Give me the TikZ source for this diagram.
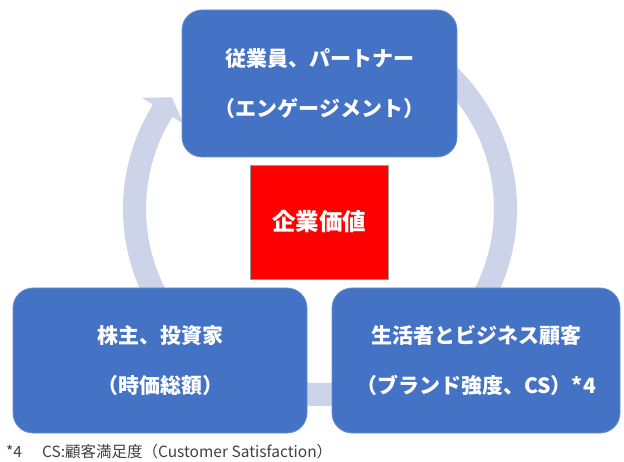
\documentclass[tikz,border=0pt]{standalone}
\usepackage{fontspec}
\setmainfont{Noto Sans CJK JP}
\newfontfamily\jp{Noto Sans CJK JP}
\definecolor{boxblue}{HTML}{4472C4}
\definecolor{boxedge}{HTML}{6A8FD2}
\definecolor{ringcol}{HTML}{CDD3E8}
\definecolor{valred}{HTML}{FF0000}
\definecolor{notegray}{HTML}{404040}
\begin{document}
\begin{tikzpicture}[x=1pt,y=1pt,
  stakebox/.style={rectangle, rounded corners=20pt, fill=boxblue, draw=boxedge, line width=0.8pt,
    text=white, align=center, inner sep=0pt,
    font=\jp\bfseries\fontsize{21}{50}\selectfont},
  valuebox/.style={rectangle, fill=valred, draw=black!40, line width=0.8pt, text=white,
    inner sep=0pt, font=\jp\bfseries\fontsize{23.5}{26}\selectfont},
  notetext/.style={text=notegray, inner sep=0pt, font=\jp\fontsize{15.5}{17}\selectfont}]
\useasboundingbox (0,0) rectangle (624,461);
% circular arrow (ring)
\fill[ringcol, shift={(320,252)}]
  (80:197) arc[start angle=80, end angle=-212, radius=197]
  -- (148:210) -- (143:185.5) -- (148:161) -- (148:174)
  arc[start angle=148, end angle=440, radius=174] -- cycle;
% nodes
\node[stakebox, minimum width=275pt, minimum height=147pt] (emp) at (319.5,377.5)
  {従業員、パートナー\\（エンゲージメント）};
\node[valuebox, minimum width=138pt, minimum height=114pt] (val) at (319,239) {企業価値};
\node[stakebox, minimum width=294pt, minimum height=145pt] (inv) at (160,100.5)
  {株主、投資家\\（時価総額）};
\node[stakebox, minimum width=288pt, minimum height=145pt] (cus) at (476,100.5)
  {生活者とビジネス顧客\\（ブランド強度、CS）*4};
\node[notetext, anchor=west] (note) at (6,9)
  {*4\hspace{20pt}CS:顧客満足度（Customer Satisfaction）};
\end{tikzpicture}
\end{document}
